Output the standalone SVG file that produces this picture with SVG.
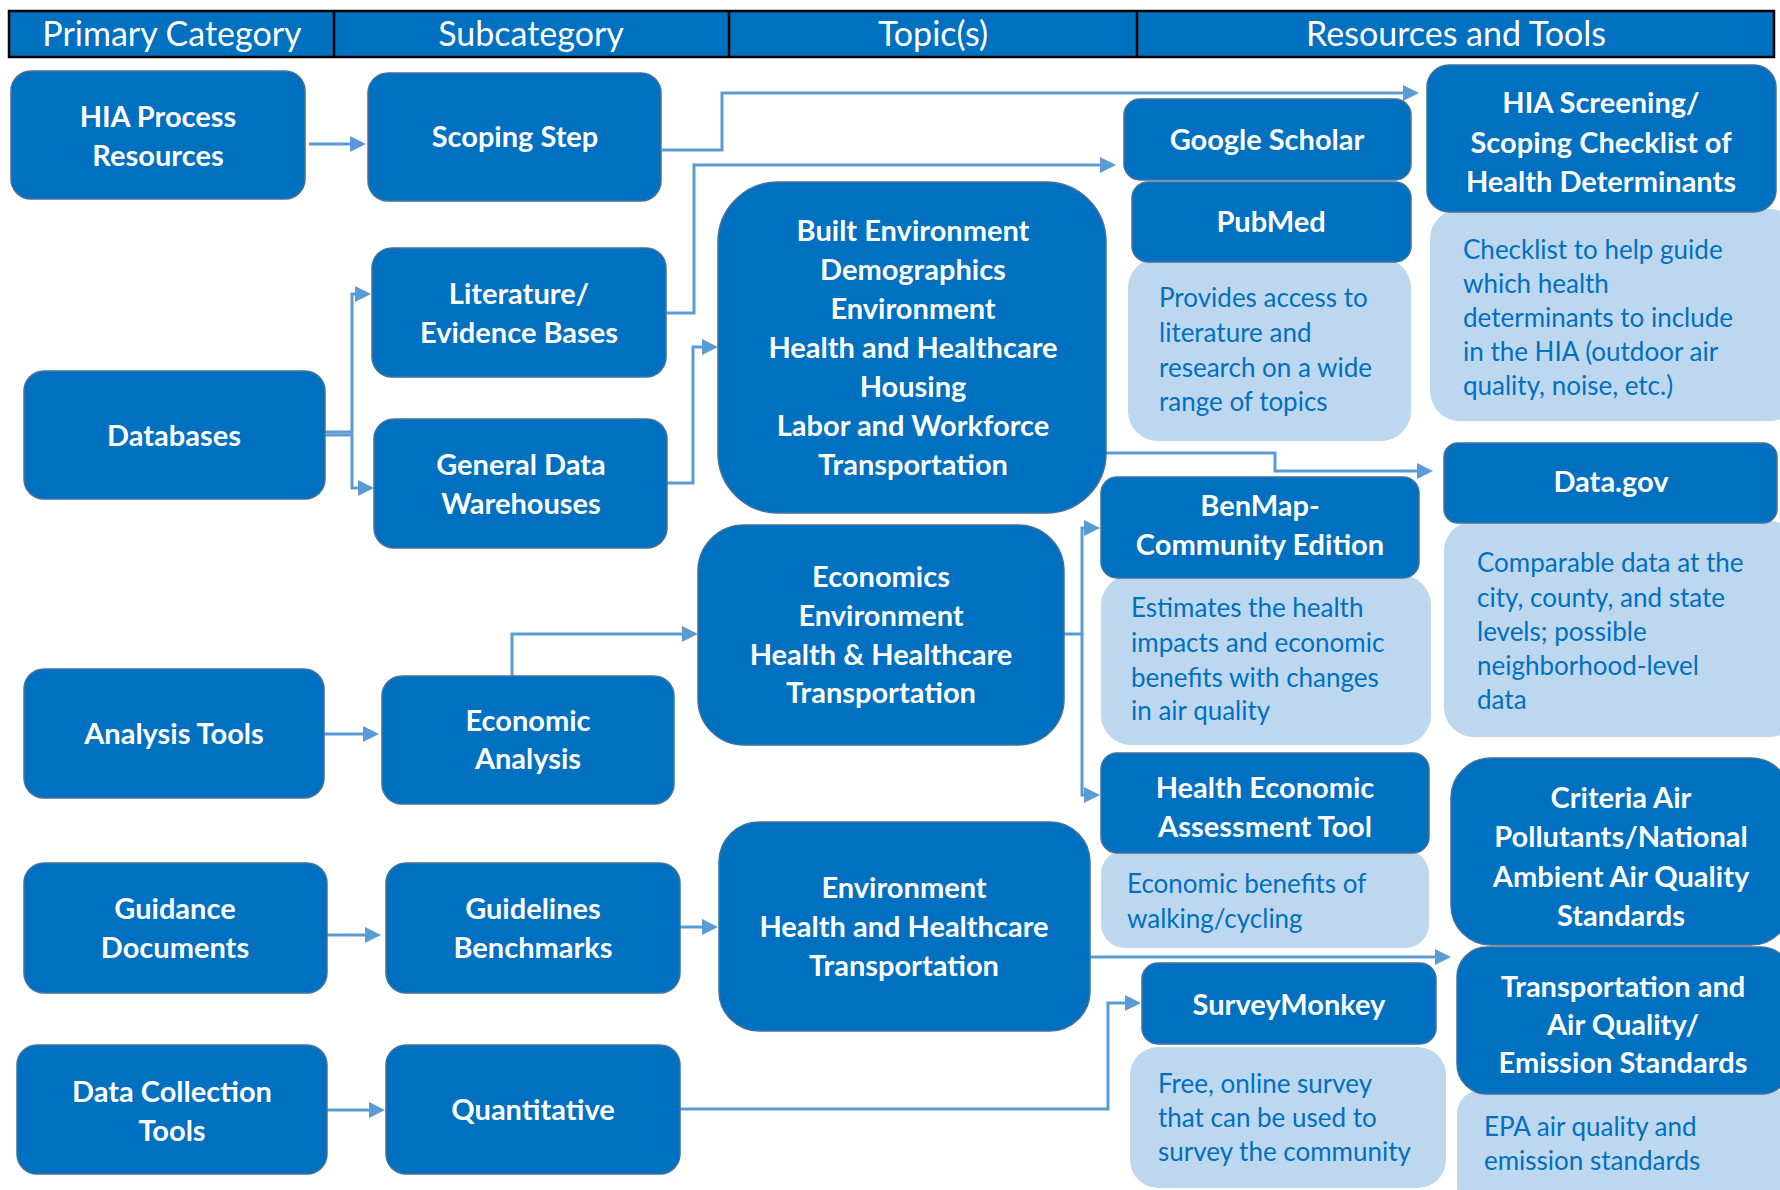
<svg xmlns="http://www.w3.org/2000/svg" width="1780" height="1190" viewBox="0 0 1780 1190">
<defs>
<style>
.dk{fill:#0070C0;stroke:#41719C;stroke-width:1.5}
.lt{fill:#BDD7EE;stroke:none}
.t{font-family:Lato,"Liberation Sans",sans-serif;font-weight:700;font-size:29px;fill:#fff;text-anchor:middle}
.h{font-family:Lato,"Liberation Sans",sans-serif;font-weight:400;font-size:34px;fill:#fff;text-anchor:middle}
.d{font-family:Lato,"Liberation Sans",sans-serif;font-weight:400;font-size:26px;fill:#0070C0}
.c{fill:none;stroke:#5B9BD5;stroke-width:3}
</style>
<marker id="ah" markerUnits="userSpaceOnUse" markerWidth="16" markerHeight="16" refX="8" refY="8" orient="auto">
<path d="M0,0 L16,8 L0,16 Z" fill="#5B9BD5"/>
</marker>
</defs>
<rect width="1780" height="1190" fill="#fff"/>

<g id="header">
<rect x="9" y="11" width="1765" height="46" fill="#0070C0" stroke="#000" stroke-width="2.5"/>
<line x1="334" y1="11" x2="334" y2="57" stroke="#000" stroke-width="2.5"/>
<line x1="729" y1="11" x2="729" y2="57" stroke="#000" stroke-width="2.5"/>
<line x1="1137" y1="11" x2="1137" y2="57" stroke="#000" stroke-width="2.5"/>
<text class="h" x="172" y="46">Primary Category</text>
<text class="h" x="531" y="46">Subcategory</text>
<text class="h" x="933" y="46">Topic(s)</text>
<text class="h" x="1456" y="46">Resources and Tools</text>
</g>

<g id="connectors">
<path class="c" d="M309,144 H358" marker-end="url(#ah)"/>
<path class="c" d="M662,150 H722 V93 H1411" marker-end="url(#ah)"/>
<path class="c" d="M666,313 H694 V165 H1108" marker-end="url(#ah)"/>
<path class="c" d="M325,432 H352 V294 H363" marker-end="url(#ah)"/>
<path class="c" d="M325,435 H352 V488 H366" marker-end="url(#ah)"/>
<path class="c" d="M667,483 H693 V347 H710" marker-end="url(#ah)"/>
<path class="c" d="M1106,453 H1275 V471 H1425" marker-end="url(#ah)"/>
<path class="c" d="M512,676 V634 H690" marker-end="url(#ah)"/>
<path class="c" d="M324,734 H371" marker-end="url(#ah)"/>
<path class="c" d="M1064,634 H1082 V528 H1092" marker-end="url(#ah)"/>
<path class="c" d="M1082,634 V795 H1092" marker-end="url(#ah)"/>
<path class="c" d="M327,935 H373" marker-end="url(#ah)"/>
<path class="c" d="M680,927 H710" marker-end="url(#ah)"/>
<path class="c" d="M327,1110 H377" marker-end="url(#ah)"/>
<path class="c" d="M680,1109 H1108 V1003 H1133" marker-end="url(#ah)"/>
<path class="c" d="M1090,957 H1443" marker-end="url(#ah)"/>
</g>

<g id="hia-process"><rect class="dk" x="11" y="71" width="294" height="128" rx="20"/>
<text class="t" x="158" y="127">HIA Process</text><text class="t" x="158" y="166">Resources</text></g>
<g id="scoping-step"><rect class="dk" x="368" y="73" width="293" height="128" rx="20"/>
<text class="t" x="515" y="147">Scoping Step</text></g>
<g id="literature"><rect class="dk" x="372" y="248" width="294" height="129" rx="20"/>
<text class="t" x="519" y="304">Literature/</text><text class="t" x="519" y="343">Evidence Bases</text></g>
<g id="databases"><rect class="dk" x="24" y="371" width="301" height="128" rx="20"/>
<text class="t" x="174" y="446">Databases</text></g>
<g id="general-data"><rect class="dk" x="374" y="419" width="293" height="129" rx="20"/>
<text class="t" x="521" y="475">General Data</text><text class="t" x="521" y="514">Warehouses</text></g>
<g id="topics-built"><rect class="dk" x="718" y="182" width="388" height="331" rx="60"/>
<text class="t" x="913" y="241">Built Environment</text>
<text class="t" x="913" y="280">Demographics</text>
<text class="t" x="913" y="319">Environment</text>
<text class="t" x="913" y="358">Health and Healthcare</text>
<text class="t" x="913" y="397">Housing</text>
<text class="t" x="913" y="436">Labor and Workforce</text>
<text class="t" x="913" y="475">Transportation</text></g>
<g id="topics-econ"><rect class="dk" x="698" y="525" width="366" height="220" rx="46"/>
<text class="t" x="881" y="587">Economics</text>
<text class="t" x="881" y="626">Environment</text>
<text class="t" x="881" y="665">Health &amp; Healthcare</text>
<text class="t" x="881" y="703">Transportation</text></g>
<g id="analysis-tools"><rect class="dk" x="24" y="669" width="300" height="129" rx="20"/>
<text class="t" x="174" y="744">Analysis Tools</text></g>
<g id="economic-analysis"><rect class="dk" x="382" y="676" width="292" height="128" rx="20"/>
<text class="t" x="528" y="731">Economic</text><text class="t" x="528" y="769">Analysis</text></g>
<g id="guidance"><rect class="dk" x="24" y="863" width="303" height="130" rx="20"/>
<text class="t" x="175" y="919">Guidance</text><text class="t" x="175" y="958">Documents</text></g>
<g id="guidelines"><rect class="dk" x="386" y="863" width="294" height="130" rx="20"/>
<text class="t" x="533" y="919">Guidelines</text><text class="t" x="533" y="958">Benchmarks</text></g>
<g id="topics-env"><rect class="dk" x="719" y="822" width="371" height="209" rx="40"/>
<text class="t" x="904" y="898">Environment</text>
<text class="t" x="904" y="937">Health and Healthcare</text>
<text class="t" x="904" y="976">Transportation</text></g>
<g id="data-collection"><rect class="dk" x="17" y="1045" width="310" height="129" rx="20"/>
<text class="t" x="172" y="1102">Data Collection</text><text class="t" x="172" y="1141">Tools</text></g>
<g id="quantitative"><rect class="dk" x="386" y="1045" width="294" height="129" rx="20"/>
<text class="t" x="533" y="1120">Quantitative</text></g>

<g id="pubmed-desc"><rect class="lt" x="1128" y="258" width="283" height="183" rx="30"/>
<text class="d" x="1159" y="307">Provides access to</text>
<text class="d" x="1159" y="342">literature and</text>
<text class="d" x="1159" y="377">research on a wide</text>
<text class="d" x="1159" y="411">range of topics</text></g>
<g id="google-scholar"><rect class="dk" x="1124" y="99" width="287" height="81" rx="16"/>
<text class="t" x="1267" y="150">Google Scholar</text></g>
<g id="pubmed"><rect class="dk" x="1132" y="182" width="279" height="80" rx="16"/>
<text class="t" x="1271" y="232">PubMed</text></g>

<g id="checklist-desc"><rect class="lt" x="1430" y="209" width="370" height="212" rx="30"/>
<text class="d" x="1463" y="259">Checklist to help guide</text>
<text class="d" x="1463" y="293">which health</text>
<text class="d" x="1463" y="327">determinants to include</text>
<text class="d" x="1463" y="361">in the HIA (outdoor air</text>
<text class="d" x="1463" y="395">quality, noise, etc.)</text></g>
<g id="hia-screening"><rect class="dk" x="1427" y="65" width="349" height="147" rx="22"/>
<text class="t" x="1601" y="113">HIA Screening/</text>
<text class="t" x="1601" y="153">Scoping Checklist of</text>
<text class="t" x="1601" y="192">Health Determinants</text></g>

<g id="datagov-desc"><rect class="lt" x="1444" y="521" width="356" height="216" rx="30"/>
<text class="d" x="1477" y="572">Comparable data at the</text>
<text class="d" x="1477" y="607">city, county, and state</text>
<text class="d" x="1477" y="641">levels; possible</text>
<text class="d" x="1477" y="675">neighborhood-level</text>
<text class="d" x="1477" y="709">data</text></g>
<g id="datagov"><rect class="dk" x="1444" y="443" width="333" height="80" rx="14"/>
<text class="t" x="1611" y="492">Data.gov</text></g>

<g id="benmap-desc"><rect class="lt" x="1101" y="575" width="330" height="170" rx="30"/>
<text class="d" x="1131" y="617">Estimates the health</text>
<text class="d" x="1131" y="652">impacts and economic</text>
<text class="d" x="1131" y="687">benefits with changes</text>
<text class="d" x="1131" y="720">in air quality</text></g>
<g id="benmap"><rect class="dk" x="1101" y="477" width="318" height="101" rx="16"/>
<text class="t" x="1260" y="516">BenMap-</text>
<text class="t" x="1260" y="555">Community Edition</text></g>

<g id="heat-desc"><rect class="lt" x="1101" y="850" width="328" height="98" rx="24"/>
<text class="d" x="1127" y="893">Economic benefits of</text>
<text class="d" x="1127" y="928">walking/cycling</text></g>
<g id="heat"><rect class="dk" x="1101" y="753" width="328" height="100" rx="16"/>
<text class="t" x="1265" y="798">Health Economic</text>
<text class="t" x="1265" y="837">Assessment Tool</text></g>

<g id="epa-desc"><rect class="lt" x="1457" y="1090" width="343" height="120" rx="24"/>
<text class="d" x="1484" y="1136">EPA air quality and</text>
<text class="d" x="1484" y="1170">emission standards</text></g>
<g id="criteria"><rect class="dk" x="1451" y="758" width="340" height="187" rx="40"/>
<text class="t" x="1621" y="808">Criteria Air</text>
<text class="t" x="1621" y="847">Pollutants/National</text>
<text class="t" x="1621" y="887">Ambient Air Quality</text>
<text class="t" x="1621" y="926">Standards</text></g>
<g id="transport-aq"><rect class="dk" x="1457" y="947" width="334" height="147" rx="30"/>
<text class="t" x="1623" y="997">Transportation and</text>
<text class="t" x="1623" y="1035">Air Quality/</text>
<text class="t" x="1623" y="1073">Emission Standards</text></g>

<g id="survey-desc"><rect class="lt" x="1130" y="1047" width="316" height="141" rx="28"/>
<text class="d" x="1158" y="1093">Free, online survey</text>
<text class="d" x="1158" y="1127">that can be used to</text>
<text class="d" x="1158" y="1161">survey the community</text></g>
<g id="surveymonkey"><rect class="dk" x="1142" y="963" width="294" height="81" rx="16"/>
<text class="t" x="1289" y="1015">SurveyMonkey</text></g>
</svg>
